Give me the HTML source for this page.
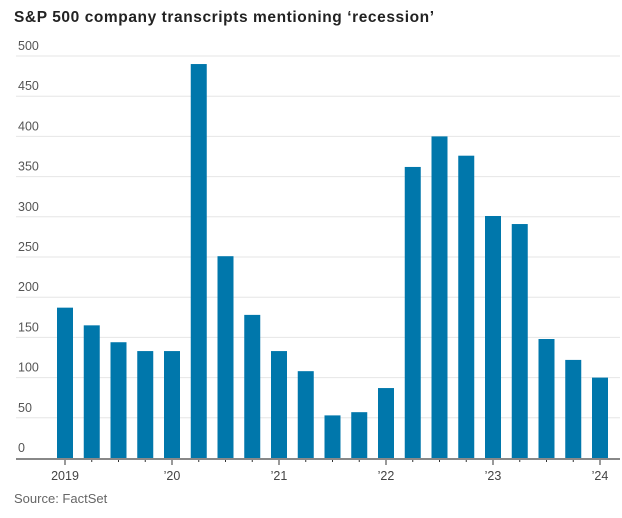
<!DOCTYPE html>
<html><head><meta charset="utf-8"><style>
body{margin:0;background:#fff;width:622px;height:513px;overflow:hidden;font-family:"Liberation Sans",sans-serif}
</style></head><body>
<svg width="622" height="513">
<text x="14" y="22" font-size="15.5" font-weight="bold" fill="#222" textLength="420">S&amp;P 500 company transcripts mentioning ‘recession’</text>
<g id="grid"></g><g id="bars"></g><g id="axis"></g>
<text x="14" y="503" font-size="13" fill="#666">Source: FactSet</text>
</svg>
<script>
const quarters=["Q1 2019","Q2 2019","Q3 2019","Q4 2019","Q1 2020","Q2 2020","Q3 2020","Q4 2020","Q1 2021","Q2 2021","Q3 2021","Q4 2021","Q1 2022","Q2 2022","Q3 2022","Q4 2022","Q1 2023","Q2 2023","Q3 2023","Q4 2023","Q1 2024"];
const mentions=[187,165,144,133,133,490,251,178,133,108,53,57,87,362,400,376,301,291,148,122,100];
const yTicks=[0,50,100,150,200,250,300,350,400,450,500];
const yearLabels=["2019","’20","’21","’22","’23","’24"];
const NS="http://www.w3.org/2000/svg";
const y0=458,yScale=402/500;
const y=v=>y0-v*yScale;
const x=i=>57+i*26.75;
const bw=16;
function mk(t,a,p){const e=document.createElementNS(NS,t);for(const k in a)e.setAttribute(k,a[k]);p.appendChild(e);return e;}
const grid=document.getElementById('grid');
yTicks.forEach(v=>{
 if(v>0){const l=mk('line',{x1:16,x2:620,y1:y(v),y2:y(v),stroke:'#e6e6e6','stroke-width':1},grid);
 
 }
 const t=mk('text',{x:18,y:y(v)-6,'font-size':12.5,fill:'#555'},grid);t.textContent=v;
 
 
});
const bars=document.getElementById('bars');
mentions.forEach((v,i)=>{
 const r=mk('rect',{x:x(i),y:y(v),width:bw,height:v*yScale,fill:'#0077ab'},bars);
 
 
});
const ax=document.getElementById('axis');
const al=mk('line',{x1:16,x2:620,y1:y0+1,y2:y0+1,stroke:'#888','stroke-width':2},ax);


mentions.forEach((v,i)=>{
 const cx=x(i)+bw/2, yr=i%4===0;
 const tk=mk('line',{x1:cx,x2:cx,y1:y0+2,y2:y0+(yr?7:4),stroke:'#333','stroke-width':1},ax);
 
 
 if(yr){const t=mk('text',{x:cx,y:y0+22,'font-size':12.5,fill:'#444','text-anchor':'middle'},ax);t.textContent=yearLabels[i/4];
 
 }
});
</script>
</body></html>
